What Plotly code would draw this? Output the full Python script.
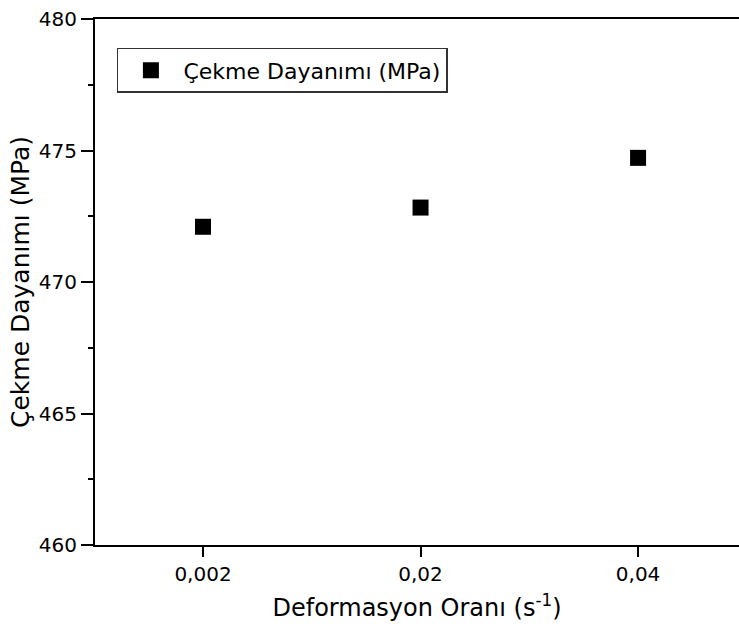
import plotly.graph_objects as go

categories = ["0,002", "0,02", "0,04"]
tensile_strength = [472.1, 472.83, 474.72]
series_name = "Çekme Dayanımı (MPa)"
y_ticks = [460, 465, 470, 475, 480]

FONT = "DejaVu Sans, Liberation Sans, Arial, sans-serif"

fig = go.Figure()
fig.add_trace(go.Scatter(
    x=categories, y=tensile_strength, mode="markers", name=series_name,
    marker=dict(symbol="square", size=16, color="black"),
))

fig.update_layout(
    width=739, height=635,
    margin=dict(l=95, r=0, t=19, b=90),
    paper_bgcolor="white", plot_bgcolor="white",
    font=dict(family=FONT, color="black"),
    showlegend=True,
    legend=dict(
        x=0.034, y=0.945, xanchor="left", yanchor="top",
        bordercolor="#333", borderwidth=1.5, bgcolor="white",
        itemwidth=55,
        font=dict(size=22, family=FONT),
    ),
    xaxis=dict(
        type="category", range=[-0.4966, 2.464],
        showline=True, linecolor="black", linewidth=2, mirror=True,
        ticks="outside", ticklen=10, tickwidth=2, tickcolor="black",
        showgrid=False, zeroline=False,
        tickfont=dict(size=20, family=FONT),
        ticklabeloverflow="allow",
        title=dict(text="Deformasyon Oranı (s<sup>-1</sup>)", font=dict(size=24, family=FONT), standoff=14),
    ),
    yaxis=dict(
        range=[460, 480], tickvals=y_ticks,
        showline=True, linecolor="black", linewidth=2, mirror=False,
        ticks="outside", ticklen=12, tickwidth=2, tickcolor="black",
        minor=dict(dtick=2.5, ticks="outside", ticklen=5, tickwidth=2, tickcolor="black", showgrid=False),
        showgrid=False, zeroline=False,
        tickfont=dict(size=20, family=FONT),
        ticklabeloverflow="allow",
        title=dict(text="Çekme Dayanımı (MPa)", font=dict(size=25, family=FONT), standoff=2),
    ),
)

fig.write_html(
    "out.html",
    config={"displayModeBar": False},
    post_script="document.body.style.margin='0';document.body.style.overflow='hidden';",
)
